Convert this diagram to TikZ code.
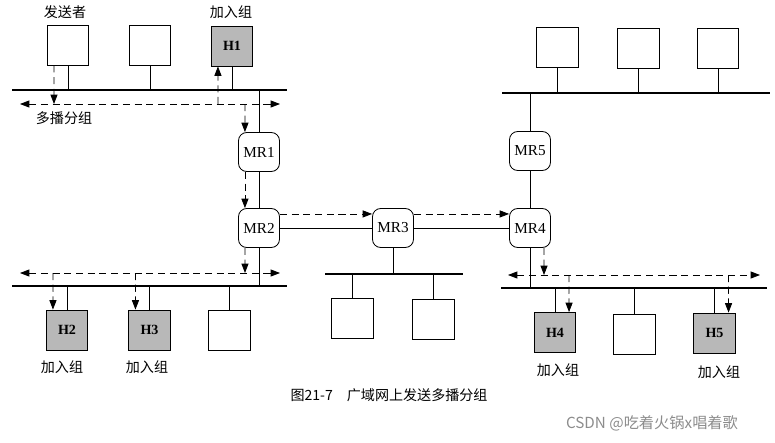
\documentclass[tikz,border=0pt]{standalone}
\usepackage{fontspec}
\setmainfont{Liberation Serif}
\newfontfamily\cjk{Noto Sans CJK SC}
\usepackage{tikz}
\usetikzlibrary{arrows.meta}

\begin{document}
\begin{tikzpicture}[x=0.03cm, y=-0.03cm,
        host/.style={rectangle, draw, line width=0.7pt, fill=white, minimum width=1.24cm, minimum height=1.2cm, inner sep=0pt},
        member/.style={host, fill=black!28, font=\fontsize{12}{14}\selectfont\bfseries},
        router/.style={rectangle, draw, line width=0.7pt, rounded corners=7pt, fill=white, minimum width=1.23cm, minimum height=1.17cm, inner sep=0pt, font=\fontsize{13}{15}\selectfont},
        bus/.style={draw, line width=2.4pt},
        link/.style={draw, line width=0.7pt},
        mcast/.style={draw, line width=0.7pt, dash pattern=on 6pt off 4pt, -{Triangle[length=8pt,width=6pt]}},
        mcastboth/.style={mcast, {Triangle[length=8pt,width=6pt]}-{Triangle[length=8pt,width=6pt]}},
        cjklabel/.style={font=\cjk\fontsize{12}{14}\selectfont}]
        \useasboundingbox (0,0) rectangle (775,443);

        \coordinate (busA-w) at (12,90);
        \coordinate (busA-e) at (287,90);
        \coordinate (busB-w) at (12,286);
        \coordinate (busB-e) at (287,286);
        \coordinate (busC-w) at (325,274);
        \coordinate (busC-e) at (463,274);
        \coordinate (busD-w) at (502,93);
        \coordinate (busD-e) at (770,93);
        \coordinate (busE-w) at (501,288);
        \coordinate (busE-e) at (767,288);

        \node [host] (snd) at (68,45) {};
        \node [host] (ha) at (150,45) {};
        \node [member] (h1) at (232,46) {H1};
        \node [member] (h2) at (67,330) {H2};
        \node [member] (h3) at (149.5,330) {H3};
        \node [host] (hb) at (229.5,330.5) {};
        \node [host] (hc) at (352.5,318.5) {};
        \node [host] (hd) at (433.5,319.5) {};
        \node [host] (he) at (557.5,47.5) {};
        \node [host] (hf) at (638.5,48) {};
        \node [host] (hg) at (718,48.5) {};
        \node [member] (h4) at (555,332.5) {H4};
        \node [host] (hh) at (634.5,334) {};
        \node [member] (h5) at (714.5,333) {H5};

        \node [router] (mr1) at (259,152) {MR1};
        \node [router] (mr2) at (259,228) {MR2};
        \node [router] (mr3) at (393,228) {MR3};
        \node [router] (mr4) at (530,228) {MR4};
        \node [router] (mr5) at (530,151) {MR5};

        \path [bus] (busA-w) -- (busA-e);
        \path [bus] (busB-w) -- (busB-e);
        \path [bus] (busC-w) -- (busC-e);
        \path [bus] (busD-w) -- (busD-e);
        \path [bus] (busE-w) -- (busE-e);

        \path [link] (snd) -- (snd |- busA-w);
        \path [link] (ha) -- (ha |- busA-w);
        \path [link] (h1) -- (h1 |- busA-w);
        \path [link] (h2) -- (h2 |- busB-w);
        \path [link] (h3) -- (h3 |- busB-w);
        \path [link] (hb) -- (hb |- busB-w);
        \path [link] (hc) -- (hc |- busC-w);
        \path [link] (hd) -- (hd |- busC-w);
        \path [link] (he) -- (he |- busD-w);
        \path [link] (hf) -- (hf |- busD-w);
        \path [link] (hg) -- (hg |- busD-w);
        \path [link] (h4) -- (h4 |- busE-w);
        \path [link] (hh) -- (hh |- busE-w);
        \path [link] (h5) -- (h5 |- busE-w);

        \path [link] (mr1) -- (mr1 |- busA-w);
        \path [link] (mr1) -- (mr2);
        \path [link] (mr2) -- (mr2 |- busB-w);
        \path [link] (mr2) -- (mr3);
        \path [link] (mr3) -- (mr4);
        \path [link] (mr3) -- (mr3 |- busC-w);
        \path [link] (mr5) -- (mr5 |- busD-w);
        \path [link] (mr5) -- (mr4);
        \path [link] (mr4) -- (mr4 |- busE-w);

        \coordinate (mcA-w) at (20,104);
        \coordinate (mcA-e) at (280,104);
        \coordinate (tapA1) at (54,104);
        \coordinate (tapA2) at (218,104);
        \coordinate (tapA3) at (245,104);
        \path [mcastboth] (mcA-w) -- (mcA-e);
        \path [mcast] ([xshift=-12pt]snd.south) -- (tapA1);
        \path [mcast] (tapA2) -- ([xshift=-12pt]h1.south);
        \path [mcast] (tapA3) -- ([xshift=-12pt]mr1.north);
        \path [mcast] ([xshift=-12pt]mr1.south) -- ([xshift=-12pt]mr2.north);

        \coordinate (mcB-w) at (20,273);
        \coordinate (mcB-e) at (280,273);
        \coordinate (tapB1) at (245,273);
        \coordinate (tapB2) at (53,273);
        \coordinate (tapB3) at (135.5,273);
        \path [mcastboth] (mcB-w) -- (mcB-e);
        \path [mcast] ([xshift=-12pt]mr2.south) -- (tapB1);
        \path [mcast] (tapB2) -- ([xshift=-12pt]h2.north);
        \path [mcast] (tapB3) -- ([xshift=-12pt]h3.north);

        \path [mcast] ([yshift=12pt]mr2.east) -- ([yshift=12pt]mr3.west);
        \path [mcast] ([yshift=12pt]mr3.east) -- ([yshift=12pt]mr4.west);

        \coordinate (mcE-w) at (508,275);
        \coordinate (mcE-e) at (760,275);
        \coordinate (tapE1) at (544,275);
        \coordinate (tapE2) at (569,275);
        \coordinate (tapE3) at (728.5,275);
        \path [mcastboth] (mcE-w) -- (mcE-e);
        \path [mcast] ([xshift=12pt]mr4.south) -- (tapE1);
        \path [mcast] (tapE2) -- ([xshift=12pt]h4.north);
        \path [mcast] (tapE3) -- ([xshift=12pt]h5.north);

        \node [cjklabel] (sndlbl) at (65,12) {发送者};
        \node [cjklabel] (h1lbl) at (231,12) {加入组};
        \node [cjklabel] (mclbl) at (64,118) {多播分组};
        \node [cjklabel] (h2lbl) at (62,367) {加入组};
        \node [cjklabel] (h3lbl) at (147,367) {加入组};
        \node [cjklabel] (h4lbl) at (558,370) {加入组};
        \node [cjklabel] (h5lbl) at (719,372) {加入组};
        \node [cjklabel] (caption) at (389,395) {图21-7\quad 广域网上发送多播分组};
        \node [cjklabel, font=\cjk\fontsize{13}{15}\selectfont, text=black!45] (wm) at (652,423) {CSDN @吃着火锅x唱着歌};
    \end{tikzpicture}
\end{document}
